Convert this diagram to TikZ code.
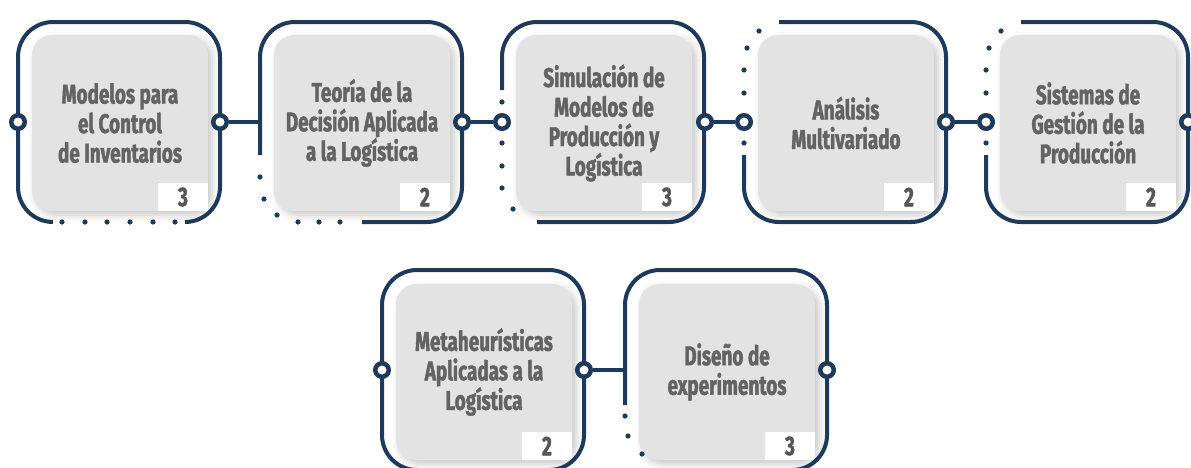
\documentclass[tikz,border=0pt]{standalone}
\usepackage{fontspec}
\setmainfont{Fira Sans}[FakeStretch=0.7, BoldFeatures={FakeBold=1.6}]
\usetikzlibrary{shadows.blur}
\definecolor{navy}{HTML}{1D3A5C}
\definecolor{cardgray}{HTML}{E3E3E3}
\definecolor{labelgray}{HTML}{636363}
\newcommand\cardfont{\bfseries\fontsize{27}{29.5}\selectfont\spaceskip=4.5pt plus 1pt minus 1pt\relax}

\tikzset{
  card/.style={fill=cardgray, rounded corners=20pt, minimum width=176pt, minimum height=176pt,
    text width=172pt, align=flush center, inner sep=0pt, text=labelgray, font=\cardfont,
    blur shadow={shadow xshift=4pt, shadow yshift=-4pt, shadow blur radius=7pt, shadow opacity=22}},
  badge/.style={fill=white, minimum width=50pt, minimum height=28pt, inner sep=0pt,
    anchor=south east, text=black!66, font=\bfseries\fontsize{27}{27}\selectfont},
  ring/.style={circle, draw=navy, fill=white, line width=4.5pt, minimum size=13.5pt, inner sep=0pt},
  rim/.style={draw=navy, line width=4pt, rounded corners=35pt},
  link/.style={draw=navy, line width=4pt}
}

\begin{document}
\begin{tikzpicture}[x=1pt, y=-1pt]
\useasboundingbox (0,0) rectangle (1191,467);

% cards, first row
\node[card] (c1) at (120,123) {Modelos para\\el Control\\de Inventarios};
\node[badge] (n1) at (c1.south east) {3};
\node[card] (c2) at (362,123) {Teoría de la\\Decisión Aplicada\\a la Logística};
\node[badge] (n2) at (c2.south east) {2};
\node[card] (c3) at (604,123) {Simulación de\\Modelos de\\Producción y\\Logística};
\node[badge] (n3) at (c3.south east) {3};
\node[card] (c4) at (846,123) {Análisis\\Multivariado};
\node[badge] (n4) at (c4.south east) {2};
\node[card] (c5) at (1088,123) {Sistemas de\\Gestión de la\\Producción};
\node[badge] (n5) at (c5.south east) {2};
% cards, second row
\node[card] (c6) at (484,372) {Metaheurísticas\\Aplicadas a la\\Logística};
\node[badge] (n6) at (c6.south east) {2};
\node[card] (c7) at (727,372) {Diseño de\\experimentos};
\node[badge] (n7) at (c7.south east) {3};

% frames
\begin{scope}[shift={(119,122)}]
\draw[rim] (-66,100) -| (-101,-100) -| (101,100) -- (66,100);
\foreach \x in {-57,-34,-12,11,34,56} \fill[navy] (\x,100) circle (2.6);
\end{scope}
\begin{scope}[shift={(361,122)}]
\draw[rim] (-101,33) |- (101,-100) |- (1,100);
\foreach \p in {(-101,55),(-97,77),(-84,93),(-63,100),(-42,100),(-21,100)} \fill[navy] \p circle (2.6);
\end{scope}
\begin{scope}[shift={(603,122)}]
\draw[rim] (-101,-32) |- (101,-100) |- (-66,100);
\foreach \p in {(-101,-20),(-101,21),(-101,44),(-101,66),(-90,87)} \fill[navy] \p circle (2.6);
\end{scope}
\foreach \cx in {845,1087}{
\begin{scope}[shift={(\cx,122)}]
\draw[rim] (-101,33) |- (101,100) |- (-66,-100);
\foreach \p in {(-86,-91),(-98,-74),(-101,-52),(-101,-29),(-101,21)} \fill[navy] \p circle (2.6);
\end{scope}
}
\begin{scope}[shift={(483,370)}]
\draw[rim] (-101,-100) rectangle (101,100);
\end{scope}
\begin{scope}[shift={(726,370)}]
\draw[rim] (-101,35) |- (101,-100) |- (1,100);
\foreach \p in {(-101,46),(-98,66),(-84,84)} \fill[navy] \p circle (2.6);
\end{scope}

% connector rings
\node[ring] (l1) at (18,122) {};
\node[ring] (r1) at (220,122) {};
\node[ring] (r2) at (462,122) {};
\node[ring] (l3) at (502,122) {};
\node[ring] (r3) at (705,122) {};
\node[ring] (l4) at (744,122) {};
\node[ring] (r4) at (946,122) {};
\node[ring] (l5) at (986,122) {};
\node[ring] (r5) at (1188,122) {};
\node[ring] (l6) at (382,370) {};
\node[ring] (r6) at (584,370) {};
\node[ring] (r7) at (827,370) {};
\coordinate (e2) at (260,122);
\coordinate (e7) at (625,370);

\draw[link] (r1) -- (e2);
\draw[link] (r2) -- (l3);
\draw[link] (r3) -- (l4);
\draw[link] (r4) -- (l5);
\draw[link] (r6) -- (e7);
\end{tikzpicture}
\end{document}
